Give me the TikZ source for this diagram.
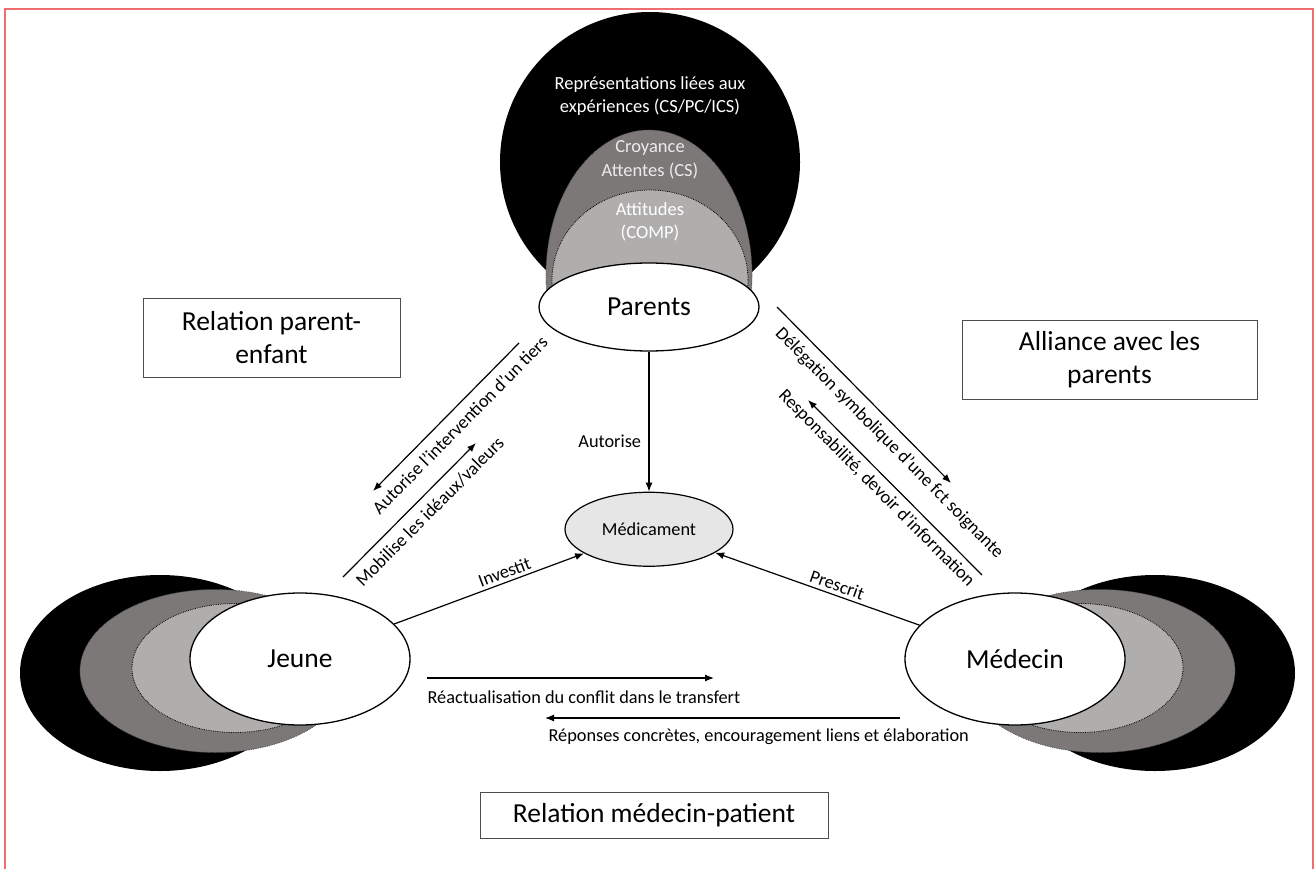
\documentclass[tikz,border=0pt]{standalone}
\usepackage{fontspec}
\setmainfont{Carlito}
\usetikzlibrary{arrows.meta,positioning,shapes.geometric}
\definecolor{framered}{RGB}{238,110,112}
\definecolor{shadedark}{RGB}{124,120,120}
\definecolor{shadelight}{RGB}{176,173,173}
\definecolor{medicfill}{RGB}{230,230,230}
\newcommand{\bigfont}{\fontsize{27.5}{33}\selectfont}
\newcommand{\lblfont}{\fontsize{18.3}{22}\selectfont}

\begin{document}
\begin{tikzpicture}[
  x=1pt, y=-1pt,
  every node/.style={font=\lblfont},
  actor/.style={ellipse, draw, fill=white, line width=1.3pt, minimum width=220pt, minimum height=132pt, inner sep=0pt, font=\bigfont},
  layer/.style={ellipse, inner sep=0pt},
  dark/.style={layer, fill=shadedark, draw=black!70, densely dotted, line width=0.8pt},
  light/.style={layer, fill=shadelight, draw=black, densely dotted, line width=0.8pt},
  theme/.style={rectangle, draw=black!70, line width=0.9pt, align=center, font=\bigfont},
  inlay/.style={align=center, font=\fontsize{18.5}{23.5}\selectfont},
  arr/.style={line width=1.2pt, -{Latex[length=9pt, width=7pt]}}
]
  \useasboundingbox (0,0) rectangle (1314,869);
  \draw[framered, line width=2.5pt] (5,900) -- (5,9) -- (1313,9) -- (1313,900);

  % parents with its three layers
  \begin{scope}
    \clip (0,0) rectangle (1314,307);
    \node[layer, fill=black, minimum width=300pt, minimum height=300pt] (parblack) at (650,162) {};
    \node[dark, minimum width=206pt, minimum height=290pt] (pardark) at (649,275) {};
    \node[light, minimum width=196pt, minimum height=180pt] (parlight) at (650,280) {};
  \end{scope}
  \node[actor, minimum height=88pt] (parents) at (649,307) {Parents};
  \node[inlay, text=white] (reptext) at (650,96) {Représentations liées aux\\expériences (CS/PC/ICS)};
  \node[inlay, text=black!8] (croytext) at (650,160) {Croyance\\Attentes (CS)};
  \node[inlay, text=white] (atttext) at (650,222) {Attitudes\\(COMP)};

  % jeune
  \node[layer, fill=black, minimum width=280pt, minimum height=196pt] (jeuneblack) at (160,673) {};
  \node[dark, minimum width=270pt, minimum height=163pt] (jeunedark) at (215,671) {};
  \node[light, minimum width=206pt, minimum height=129pt] (jeunelight) at (235,668) {};
  \node[actor] (jeune) at (300,659) {Jeune};

  % medecin
  \node[layer, fill=black, minimum width=280pt, minimum height=196pt] (medblack) at (1155,673) {};
  \node[dark, minimum width=270pt, minimum height=163pt] (meddark) at (1100,671) {};
  \node[light, minimum width=206pt, minimum height=129pt] (medlight) at (1080,668) {};
  \node[actor] (medecin) at (1015,659) {Médecin};

  \node[ellipse, draw, fill=medicfill, line width=1.2pt, minimum width=168pt, minimum height=74pt, inner sep=0pt, below=140pt of parents] (medic) {Médicament};

  \node[theme, minimum width=257pt, minimum height=79pt] (parentchild) at (271.5,337.5) {Relation parent-\\enfant};
  \node[theme, minimum width=295pt, minimum height=79pt] (alliance) at (1109.5,359.5) {Alliance avec les\\parents};
  \node[theme, minimum width=348pt, minimum height=46pt] (doctorpatient) at (654,815) {Relation médecin-patient};

  \coordinate (tiersA) at (519,343);
  \coordinate (tiersB) at (373,491);
  \coordinate (idealA) at (343,577);
  \coordinate (idealB) at (476,443);
  \coordinate (delegA) at (777,307);
  \coordinate (delegB) at (951,483);
  \coordinate (respA) at (982,575);
  \coordinate (respB) at (808,400);
  \coordinate (transA) at (427,678);
  \coordinate (transB) at (714,678);
  \coordinate (replyA) at (900,718);
  \coordinate (replyB) at (545,718);

  \draw[arr] (parents) -- node[left=4pt, pos=0.64]{Autorise} (medic);
  \draw[arr] (jeune) -- node[sloped, above, pos=0.6]{Investit} (medic);
  \draw[arr] (medecin) -- node[sloped, above, pos=0.42]{Prescrit} (medic);
  \draw[arr] (tiersA) -- node[sloped, below=5pt, pos=0.48]{Autorise l’intervention d’un tiers} (tiersB);
  \draw[arr] (idealA) -- node[sloped, below=5pt, pos=0.57]{Mobilise les idéaux/valeurs} (idealB);
  \draw[arr] (delegA) -- node[sloped, below=4pt, pos=0.71]{Délégation symbolique d’une fct soignante} (delegB);
  \draw[arr] (respA) -- node[sloped, below=2pt, pos=0.55]{Responsabilité, devoir d’information} (respB);
  \draw[arr] (transA) -- node[pos=0, anchor=base west, inner sep=0pt, yshift=-25pt]{Réactualisation du conflit dans le transfert} (transB);
  \draw[arr] (replyA) -- node[pos=1, anchor=base west, inner sep=0pt, xshift=3pt, yshift=-23pt]{Réponses concrètes, encouragement liens et élaboration} (replyB);
\end{tikzpicture}
\end{document}
